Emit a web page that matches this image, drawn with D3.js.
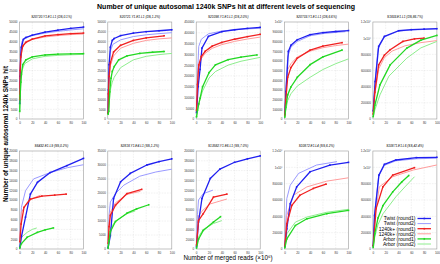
<!DOCTYPE html>
<html lang="en">
<head>
<meta charset="utf-8">
<title>Unique autosomal 1240k SNPs hit</title>
<script src="https://d3js.org/d3.v7.min.js"></script>
<style>
  body { margin: 0; background: #fff; }
  svg { font-family: "Liberation Sans", Arial, sans-serif; }
</style>
</head>
<body>
<script>
// panel info
const panelTitles = [
  "S20720.Y1.E1.L1 (DS,0.1%)", "S20721.Y1.E1.L1 (DS,1.2%)", "S21098.Y1.E1.L1 (DS,2.0%)",
  "S20703.Y1.E1.L1 (DS,6.6%)", "S1833.E1.L1 (DS,86.7%)",
  "S6432.E1.L9 (SS,0.2%)", "S2818.Y1.E4.L1 (SS,1.2%)", "S13582.Y1.E6.L1 (SS,7.0%)",
  "S10872.E1.L4 (SS,6.2%)", "S10871.E1.L6 (SS,42.4%)"
];
const yMax = [50000, 50000, 450000, 1000000, 1200000, 20000, 35000, 200000, 1200000, 1200000];
const yStep = [5000, 5000, 50000, 100000, 200000, 2000, 5000, 20000, 200000, 200000];
const xTicks = [0, 20, 40, 60, 80, 100];

// series: one list of [reads (x10^6), SNPs hit] per panel
const twist1 = [
  [[0.3,8000],[1,22000],[2,33000],[3,37000],[6,41000],[10,42000],[20,43200],[40,44800],[60,45800],[80,46700],[100,47400]],
  [[0.5,3000],[1,15000],[2,28000],[4,37000],[7,40500],[10,41500],[20,43000],[40,44300],[60,45000],[80,45500],[100,46000]],
  [[0.5,30000],[3,150000],[6,230000],[9,329000],[19,383000],[40,405000],[60,414000],[80,420000],[100,425000]],
  [[0.5,50000],[2.3,283000],[6,697000],[10,760000],[20,817000],[40,869000],[60,890000],[80,902000],[100,912000]],
  [[0.5,100000],[3.6,463000],[9,898000],[18,1022000],[40,1092000],[60,1105000],[80,1112000],[100,1117000]],
  [[0.5,300],[3,2500],[9.4,6500],[17,11200],[28,13600],[48,15600],[74,17000],[100,18500]],
  [[0.5,500],[4,4800],[9,18000],[20,24000],[35,27000],[61,30000],[80,31200],[100,32200]],
  [[0.5,5000],[3.6,55000],[9,103000],[22,144000],[37,163000],[60,177000],[80,184000],[100,190000]],
  [[0.5,30000],[3.6,247000],[9,555000],[19,760000],[40,946000],[71,1028000],[100,1061000]],
  [[0.5,40000],[2.6,412000],[9.4,905000],[18,1037000],[36,1090000],[68,1119000],[100,1123000]]
];
const twist2 = [
  [[0.3,12000],[1,28000],[2,36000],[4,40000],[8,42000],[20,43000],[40,44300],[60,45200],[80,45900],[100,46500]],
  [[0.5,5000],[1,17000],[2,27000],[4,35000],[8,38500],[20,40800],[40,42500],[60,43400],[80,44000],[100,44500]],
  [[0.5,60000],[2,200000],[4,337000],[8,370000],[19,395000],[40,408000],[60,414000],[80,418000],[100,421000]],
  [[0.5,60000],[2,300000],[5,640000],[10,740000],[20,800000],[40,858000],[60,880000],[80,893000],[95,900000]],
  [[0.5,110000],[3,430000],[8,870000],[18,1015000],[40,1088000],[60,1100000],[80,1108000],[100,1113000]],
  [[0.5,2000],[3,8500],[9.4,11900],[22,14300],[48,15600],[75,16600],[100,17200]],
  [[0.5,3000],[2,12000],[4,16800],[12,19800],[25,22800],[50,26000],[75,27500],[100,28500]],
  [[0.5,25000],[2,70000],[3.6,100000],[11,113000],[26,120000]],
  [[0.5,80000],[3.6,617000],[9,782000],[22,926000],[50,1028000],[82,1070000]],
  [[0.5,50000],[2.6,430000],[9,890000],[18,1025000],[36,1080000],[68,1105000],[100,1112000]]
];
const plus1 = [
  [[0.3,10000],[1,25000],[2,32000],[5,37500],[10,39500],[20,41200],[40,42800],[60,43500],[80,44000],[100,44300]],
  [[0.5,3000],[1,13000],[2,22000],[4,29000],[9,34500],[20,38000],[40,40500],[60,41800],[88,42900]],
  [[0.5,40000],[2,160000],[4,251000],[8,290000],[14,314000],[25,338000],[40,355000],[60,370000],[80,382000],[100,393000]],
  [[0.5,40000],[2,200000],[5,430000],[10,530000],[20,627000],[40,710000],[60,752000],[90,787000]],
  [[0.5,60000],[3,330000],[9,670000],[18,790000],[27,857000],[47,960000],[65,990000],[80,1000000]],
  [[0.5,1500],[2.6,5100],[7,8500],[17,10200],[35,10800],[55,11000],[73,11200]],
  [[0.5,2000],[2,8000],[4,12000],[12,15600],[30,19800],[53,21300]],
  [[0.5,8000],[3.6,58000],[11,72000],[27,106000],[48,112000]],
  [[0.5,40000],[3.6,309000],[11.5,535000],[24,658000],[45,741000],[65,794000]],
  [[0.5,40000],[5,494000],[15.6,761000],[31,905000],[65,996000]]
];
const plus2 = [
  [[0.3,12000],[1,27000],[2,33500],[5,38000],[10,40000],[20,41000],[40,42300],[60,43000],[80,43500],[100,43800]],
  [[0.5,4000],[1,14000],[2,21000],[4,27500],[9,32500],[20,36500],[40,39000],[60,40500],[80,41300],[100,41800]],
  [[0.5,40000],[2,150000],[4,240000],[8,280000],[14,305000],[25,328000],[40,345000],[60,360000],[80,371000],[100,380000]],
  [[0.5,60000],[2,260000],[5,510000],[10,570000],[20,640000],[40,700000],[60,735000],[80,757000],[100,772000]],
  [[0.5,60000],[3,300000],[9,620000],[18,760000],[30,840000],[50,905000],[75,945000],[100,970000]],
  [[0.5,2500],[3,7500],[12,9500],[22,10400],[33,11000]],
  [[0.5,3000],[2,9500],[4,13200],[12,16500],[30,19500],[51,20600]],
  [[0.5,10000],[3.6,68000],[11,80000],[22,92000],[48,102000]],
  [[0.5,50000],[3.6,412000],[14,658000],[35,761000],[66,831000],[100,872000]],
  [[0.5,50000],[3,380000],[10,761000],[31,885000],[63,967000],[100,1029000]]
];
const arbor1 = [
  [[0.3,4000],[1,12000],[2,19000],[3,23000],[5,28000],[10,30500],[20,32000],[40,33000],[60,33400],[80,33600],[100,33700]],
  [[0.5,2500],[1.5,4000],[3,14000],[5,21000],[7,24500],[10,27000],[17,30500],[30,32500],[50,33800],[70,34400],[88,34800]],
  [[0.5,10000],[2,40000],[4,70000],[6,96000],[10,150000],[20,215000],[30,251000],[50,275000],[70,287000],[95,297000]],
  [[0.5,20000],[2,120000],[5,250000],[10,330000],[20,430000],[40,560000],[60,640000],[90,711000]],
  [[0.5,30000],[3,170000],[11,422000],[27,670000],[53,877000],[75,975000],[100,1034000]],
  [[0.5,200],[3,1100],[12,2400],[28,3400],[40,3900],[53,4300]],
  [[0.5,300],[2,3000],[4,6200],[12,9800],[30,12800],[45,14300],[64,15800]],
  [[0.5,2000],[3.6,20000],[11,38000],[27,55000],[38,66000]],
  [[0.5,15000],[3.6,123000],[17,288000],[35,370000],[66,432000],[100,473000]],
  [[0.5,20000],[3,190000],[8,380000],[15.6,530000],[31,700000],[45,820000],[56,900000]]
];
const arbor2 = [
  [[0.3,3000],[1,10000],[2,17000],[4,25000],[8,28500],[20,31000],[40,32300],[60,32800],[80,33100],[100,33300]],
  [[0.5,2000],[2,7000],[4,15000],[7,19000],[10,21500],[20,26500],[40,30500],[60,32300],[80,33200],[100,33800]],
  [[0.5,8000],[2,35000],[5,80000],[10,130000],[20,190000],[30,220000],[50,250000],[70,268000],[100,286000]],
  [[0.5,15000],[2,90000],[5,190000],[10,260000],[20,340000],[40,430000],[60,510000],[80,570000],[100,620000]],
  [[0.5,20000],[3,110000],[11,298000],[25,530000],[53,753000],[75,880000],[100,960000]],
  [[0.5,500],[3,2400],[12,3400],[20,4000],[27,4300]],
  [[0.5,800],[2,4500],[4,7400],[12,10000],[30,12600],[43,13600]],
  [[0.5,3000],[3.6,25000],[11,40000],[27,52000],[40,58000]],
  [[0.5,25000],[3.6,185000],[17,329000],[35,391000],[66,450000],[100,486000]],
  [[0.5,15000],[3,150000],[8,300000],[15.6,430000],[36,640000],[50,760000],[65,885000]]
];

const seriesNames = ["Twist (round1)", "Twist (round2)", "1240k+ (round1)", "1240k+ (round2)", "Arbor (round1)", "Arbor (round2)"];
const seriesData = [twist1, twist2, plus1, plus2, arbor1, arbor2];
const seriesColors = ["#1f1ff0", "#9a9aff", "#f02020", "#ff9c9c", "#22d822", "#8eee8e"];

const width = 440, height = 264;
const plotW = 64;
const colLeft = [19.5, 107.8, 196.2, 284.5, 372.9];
const rowTop = [22, 151], rowBottom = [119, 249];

const svg = d3.select("body").append("svg")
  .attr("width", width)
  .attr("height", height);

svg.append("text")
  .attr("x", 226).attr("y", 8.5)
  .attr("text-anchor", "middle")
  .style("font-size", "7px").style("font-weight", "bold")
  .text("Number of unique autosomal 1240k SNPs hit at different levels of sequencing");

svg.append("text")
  .attr("transform", "translate(7.5,134) rotate(-90)")
  .attr("text-anchor", "middle")
  .style("font-size", "6.4px").style("font-weight", "bold")
  .text("Number of unique autosomal 1240k SNPs hit");

svg.append("text")
  .attr("x", 228).attr("y", 260)
  .attr("text-anchor", "middle")
  .style("font-size", "6.3px")
  .text("Number of merged reads (\u00d710\u2076)");

const fmtY = v => v >= 1000000 ? (v / 1000000) + "x10\u2076" : String(v);

panelTitles.forEach((title, i) => {
  const r = Math.floor(i / 5), c = i % 5;
  const left = colLeft[c], top = rowTop[r], bottom = rowBottom[r];
  const x = d3.scaleLinear().domain([0, 100]).range([left, left + plotW]);
  const y = d3.scaleLinear().domain([0, yMax[i]]).range([bottom, top]);
  const yTicks = d3.range(0, yMax[i] + 1, yStep[i]);
  const g = svg.append("g");

  // grid
  g.selectAll(".gx").data(xTicks.slice(1, -1)).enter().append("line")
    .attr("x1", d => x(d)).attr("x2", d => x(d))
    .attr("y1", top).attr("y2", bottom)
    .attr("stroke", "#c8c8c8").attr("stroke-width", 0.4).attr("stroke-dasharray", "0.6,1");
  g.selectAll(".gy").data(yTicks.slice(1, -1)).enter().append("line")
    .attr("x1", left).attr("x2", left + plotW)
    .attr("y1", d => y(d)).attr("y2", d => y(d))
    .attr("stroke", "#c8c8c8").attr("stroke-width", 0.4).attr("stroke-dasharray", "0.6,1");

  // axes
  const ax = g.append("g").attr("transform", "translate(0," + bottom + ")")
    .call(d3.axisBottom(x).tickValues(xTicks).tickSize(0).tickPadding(2.5));
  const ay = g.append("g").attr("transform", "translate(" + left + ",0)")
    .call(d3.axisLeft(y).tickValues(yTicks).tickFormat(fmtY).tickSize(0).tickPadding(2));
  [ax, ay].forEach(a => {
    a.select(".domain").remove();
    a.selectAll("text").style("font-size", "3px").attr("fill", "#333");
  });

  g.append("rect")
    .attr("x", left).attr("y", top)
    .attr("width", plotW).attr("height", bottom - top)
    .attr("fill", "none").attr("stroke", "#9a9a9a").attr("stroke-width", 0.6);

  g.append("text")
    .attr("x", left + plotW / 2).attr("y", top - 4)
    .attr("text-anchor", "middle")
    .style("font-size", "3.2px").style("font-style", "italic")
    .text(title);

  const line = d3.line().x(d => x(d[0])).y(d => y(d[1]));
  // round2 drawn first, round1 on top
  [1, 3, 5, 0, 2, 4].forEach(s => {
    const pts = seriesData[s][i];
    const round1 = s % 2 === 0;
    g.append("path")
      .datum(pts)
      .attr("d", line)
      .attr("fill", "none")
      .attr("stroke", seriesColors[s])
      .attr("stroke-width", round1 ? 1.3 : 1.0)
      .attr("stroke-linejoin", "round");
    if (round1) {
      g.selectAll(null).data(pts).enter().append("rect")
        .attr("x", d => x(d[0]) - 0.8).attr("y", d => y(d[1]) - 0.8)
        .attr("width", 1.6).attr("height", 1.6)
        .attr("fill", seriesColors[s]);
    }
  });
});

// legend in the last panel
const legend = svg.append("g");
seriesNames.forEach((name, k) => {
  const ly = 218.5 + k * 5.1;
  legend.append("text")
    .attr("x", 415.5).attr("y", ly + 1.8)
    .attr("text-anchor", "end")
    .style("font-size", "5px")
    .text(name);
  legend.append("line")
    .attr("x1", 417.5).attr("x2", 431)
    .attr("y1", ly).attr("y2", ly)
    .attr("stroke", seriesColors[k]).attr("stroke-width", k % 2 === 0 ? 1.3 : 1.0);
  if (k % 2 === 0) {
    legend.append("rect")
      .attr("x", 423.5).attr("y", ly - 0.8)
      .attr("width", 1.6).attr("height", 1.6)
      .attr("fill", seriesColors[k]);
  }
});
</script>
</body>
</html>
